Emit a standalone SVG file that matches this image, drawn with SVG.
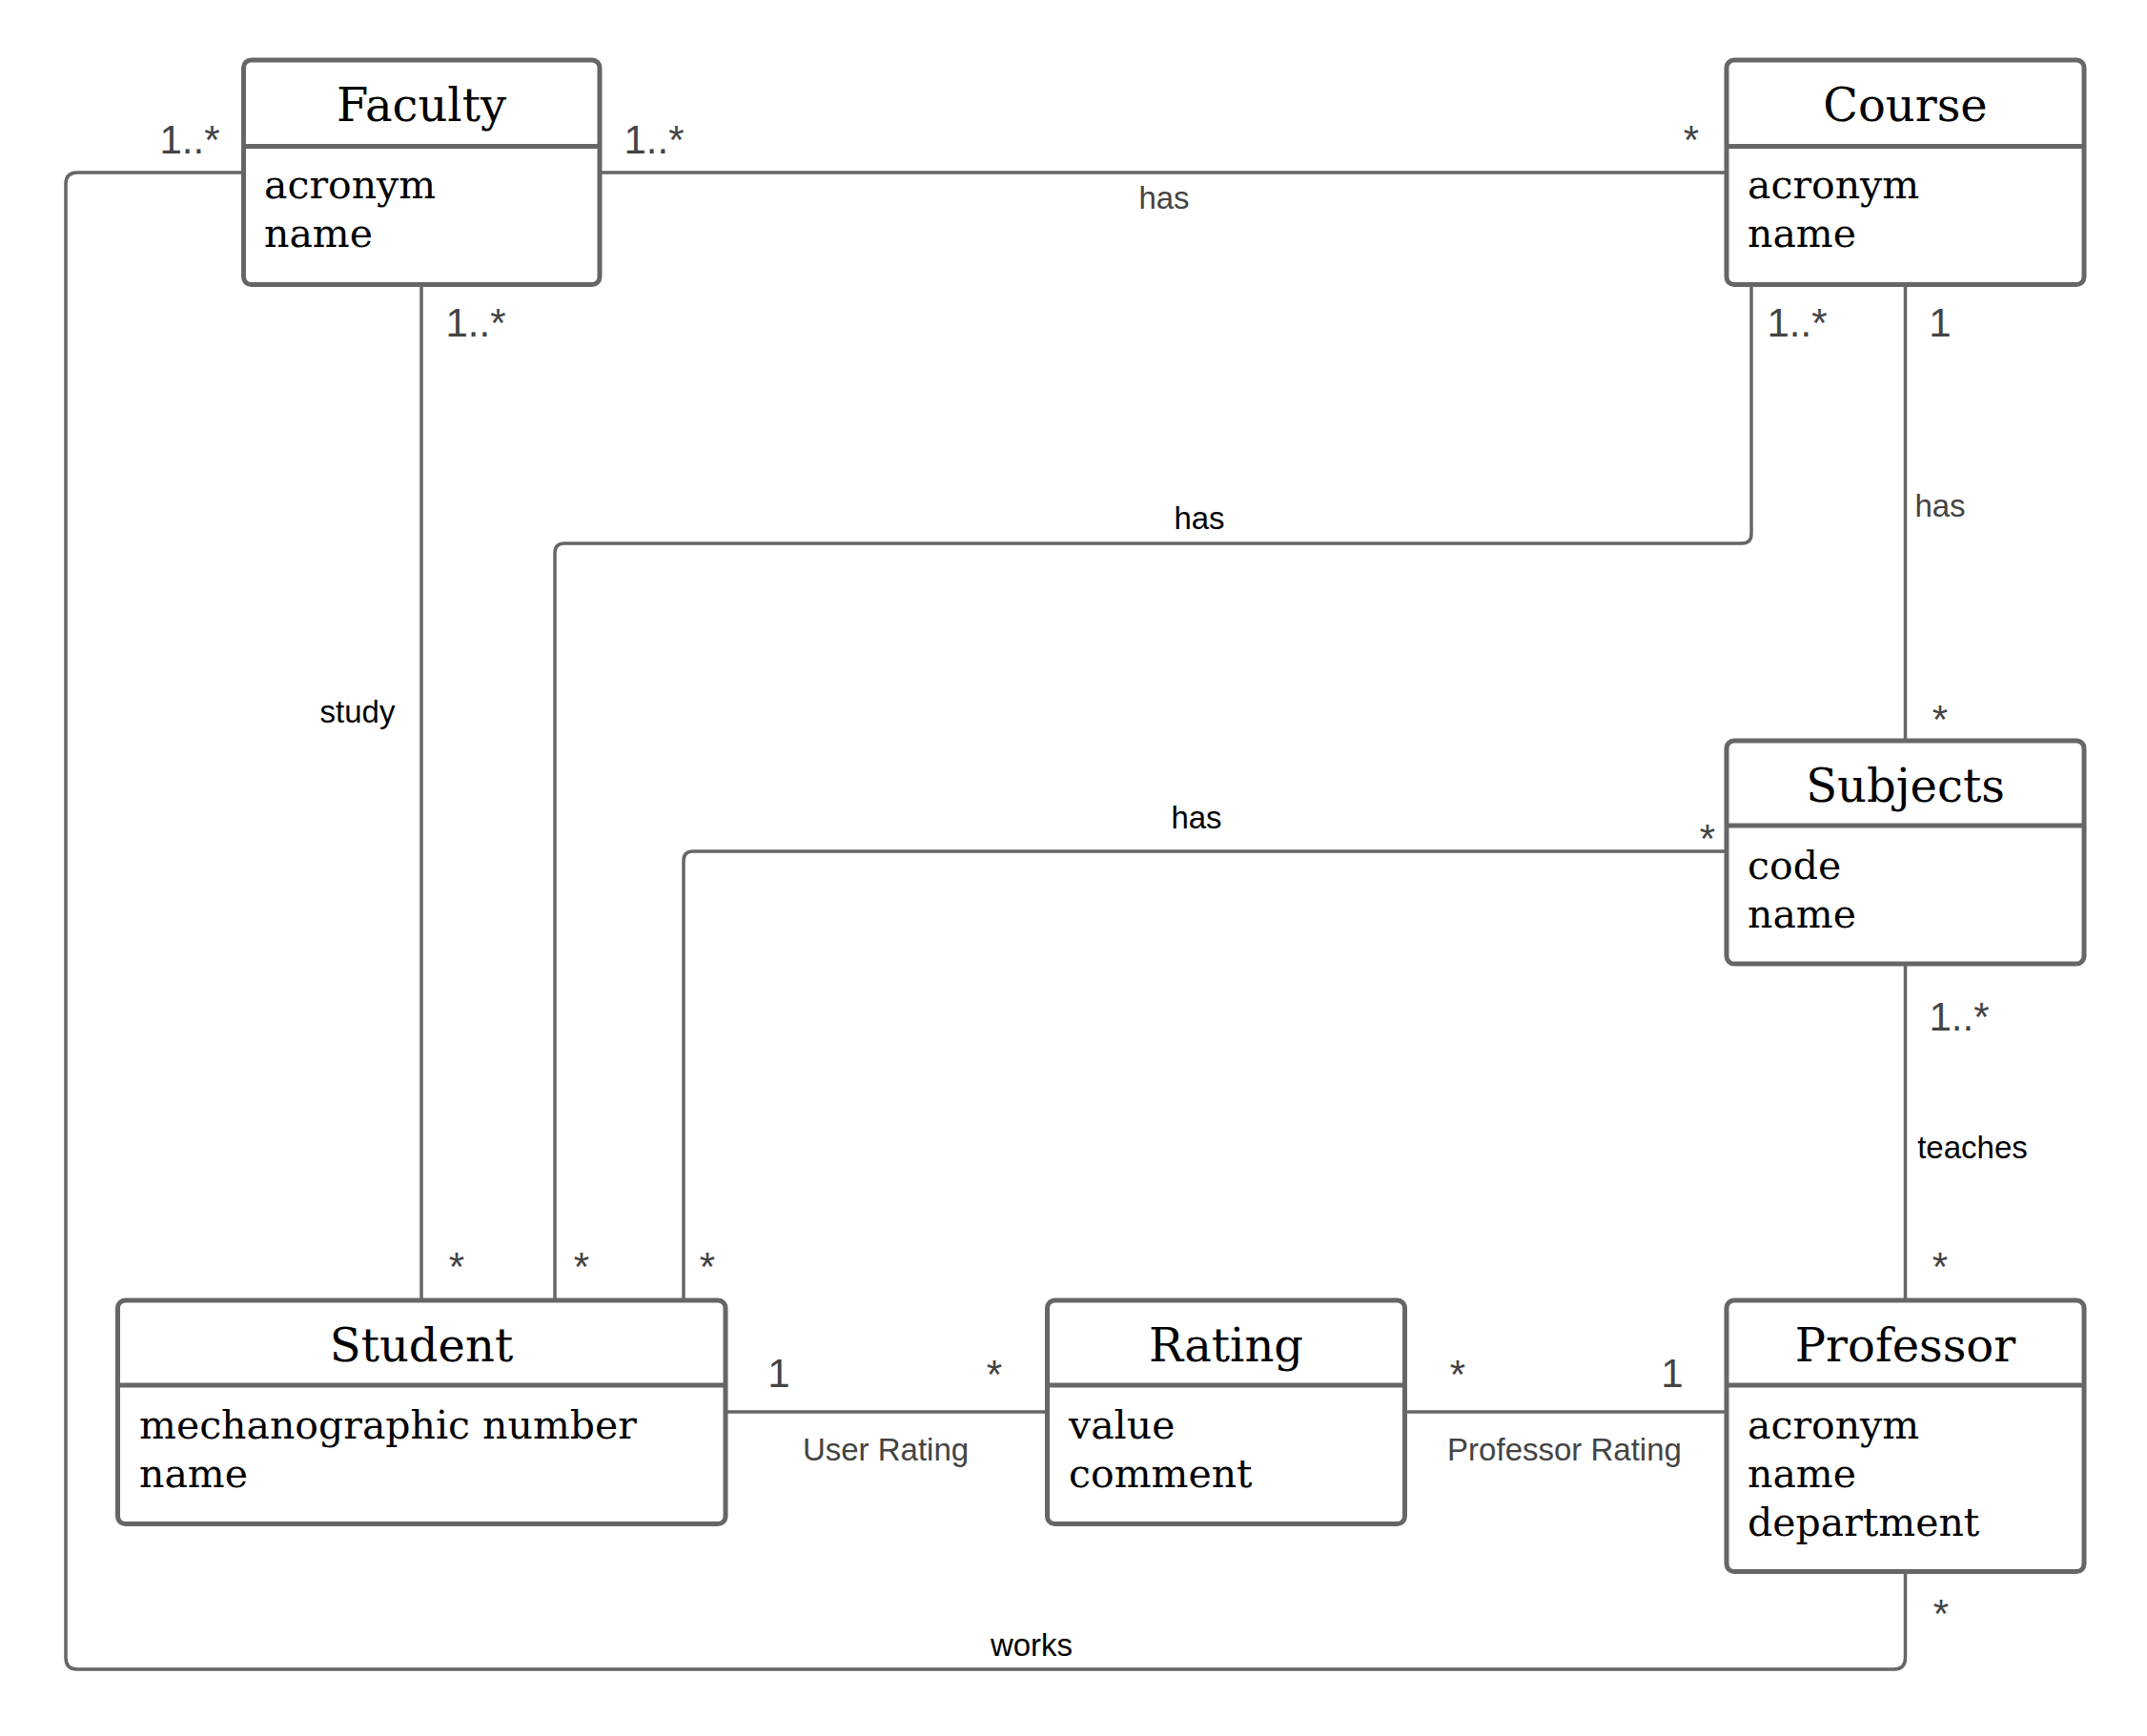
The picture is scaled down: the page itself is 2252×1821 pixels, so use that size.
<svg xmlns="http://www.w3.org/2000/svg" width="2252" height="1821" viewBox="0 0 2252 1821">
<style>
.box{fill:#fff;stroke:#666;stroke-width:5}
.div{stroke:#666;stroke-width:5}
.title{font-family:"DejaVu Serif","Liberation Serif",serif;font-size:48px;fill:#000;text-anchor:middle}
.attr{font-family:"DejaVu Serif","Liberation Serif",serif;font-size:41px;fill:#000}
.conn{fill:none;stroke:#666;stroke-width:3.5;stroke-linejoin:round}
.mult{font-family:"Liberation Sans",Arial,sans-serif;font-size:42px;fill:#444;text-anchor:middle}
.lbl{font-family:"Liberation Sans",Arial,sans-serif;font-size:33px;fill:#000;text-anchor:middle}
.lblg{font-family:"Liberation Sans",Arial,sans-serif;font-size:33px;fill:#444;text-anchor:middle}
</style>
<rect width="2252" height="1821" fill="#fff"/>
<g id="connectors">
<path class="conn" d="M629,181 H1811"/>
<path class="conn" d="M255.5,181 H81 Q69,181 69,193 V1739 Q69,1751 81,1751 H1986.5 Q1998.5,1751 1998.5,1739 V1648.5"/>
<path class="conn" d="M442,298.5 V1364"/>
<path class="conn" d="M1837,298.5 V560 Q1837,570 1827,570 H592 Q582,570 582,580 V1364"/>
<path class="conn" d="M1998.5,298.5 V777"/>
<path class="conn" d="M1811,893 H727 Q717,893 717,903 V1364"/>
<path class="conn" d="M1998.5,1011 V1364"/>
<path class="conn" d="M761,1481 H1098.5"/>
<path class="conn" d="M1473.5,1481 H1811"/>
<text class="mult" x="199" y="161">1..*</text>
<text class="mult" x="686" y="161">1..*</text>
<text class="mult" x="1774" y="161">*</text>
<text class="lblg" x="1221" y="219">has</text>
<text class="mult" x="499" y="353">1..*</text>
<text class="lbl" x="375" y="758">study</text>
<text class="mult" x="479" y="1343">*</text>
<text class="mult" x="1885" y="353">1..*</text>
<text class="lbl" x="1258" y="555">has</text>
<text class="mult" x="610" y="1343">*</text>
<text class="mult" x="2035" y="353">1</text>
<text class="lblg" x="2035" y="542">has</text>
<text class="mult" x="2035" y="769">*</text>
<text class="mult" x="1791" y="894">*</text>
<text class="lbl" x="1255" y="869">has</text>
<text class="mult" x="742" y="1343">*</text>
<text class="mult" x="2055" y="1081">1..*</text>
<text class="lbl" x="2069" y="1215">teaches</text>
<text class="mult" x="2035" y="1343">*</text>
<text class="mult" x="817" y="1455">1</text>
<text class="mult" x="1043" y="1456">*</text>
<text class="lblg" x="929" y="1532">User Rating</text>
<text class="mult" x="1529" y="1456">*</text>
<text class="mult" x="1754" y="1455">1</text>
<text class="lblg" x="1641" y="1532">Professor Rating</text>
<text class="lbl" x="1082" y="1737">works</text>
<text class="mult" x="2036" y="1707">*</text>
</g>
<g id="faculty">
<rect class="box" x="255.5" y="63" width="373.5" height="235.5" rx="8"/>
<line class="div" x1="255.5" y1="153.5" x2="629" y2="153.5"/>
<text class="title" x="442" y="127">Faculty</text>
<text class="attr" x="277" y="208">acronym</text>
<text class="attr" x="277" y="259">name</text>
</g>
<g id="course">
<rect class="box" x="1811" y="63" width="375" height="235.5" rx="8"/>
<line class="div" x1="1811" y1="153.5" x2="2186" y2="153.5"/>
<text class="title" x="1998.5" y="127">Course</text>
<text class="attr" x="1833" y="208">acronym</text>
<text class="attr" x="1833" y="259">name</text>
</g>
<g id="subjects">
<rect class="box" x="1811" y="777" width="375" height="234" rx="8"/>
<line class="div" x1="1811" y1="866" x2="2186" y2="866"/>
<text class="title" x="1998.5" y="841">Subjects</text>
<text class="attr" x="1833" y="922">code</text>
<text class="attr" x="1833" y="973">name</text>
</g>
<g id="student">
<rect class="box" x="123.5" y="1364" width="637.5" height="234.5" rx="8"/>
<line class="div" x1="123.5" y1="1453" x2="761" y2="1453"/>
<text class="title" x="442" y="1428">Student</text>
<text class="attr" x="146" y="1509">mechanographic number</text>
<text class="attr" x="146" y="1560">name</text>
</g>
<g id="rating">
<rect class="box" x="1098.5" y="1364" width="375" height="234.5" rx="8"/>
<line class="div" x1="1098.5" y1="1453" x2="1473.5" y2="1453"/>
<text class="title" x="1286" y="1428">Rating</text>
<text class="attr" x="1121" y="1509">value</text>
<text class="attr" x="1121" y="1560">comment</text>
</g>
<g id="professor">
<rect class="box" x="1811" y="1364" width="375" height="284.5" rx="8"/>
<line class="div" x1="1811" y1="1453" x2="2186" y2="1453"/>
<text class="title" x="1998.5" y="1428">Professor</text>
<text class="attr" x="1833" y="1509">acronym</text>
<text class="attr" x="1833" y="1560">name</text>
<text class="attr" x="1833" y="1611">department</text>
</g>
</svg>
